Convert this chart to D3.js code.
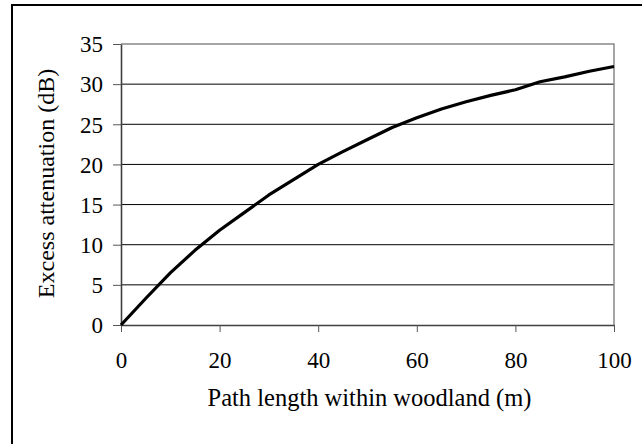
<!DOCTYPE html>
<html lang="en">
<head>
<meta charset="utf-8">
<script src="https://d3js.org/d3.v7.min.js"></script>
<style>
  body { margin: 0; background: #fff; }
  svg text { font-family: "Liberation Serif", "Times New Roman", serif; fill: #000; }
</style>
</head>
<body>
<svg id="chart" width="642" height="444"></svg>
<script>
// path length within woodland (m)
const distances = [0, 5, 10, 15, 20, 25, 30, 35, 40, 45, 50, 55, 60, 65, 70, 75, 80, 85, 90, 95, 100];
// excess attenuation (dB)
const attenuation = [0, 3.3, 6.5, 9.3, 11.8, 14.0, 16.2, 18.1, 20.0, 21.6, 23.1, 24.6, 25.8, 26.9, 27.8, 28.6, 29.3, 30.3, 30.9, 31.6, 32.2];
const xTicks = [0, 20, 40, 60, 80, 100];
const yTicks = [0, 5, 10, 15, 20, 25, 30, 35];

const svg = d3.select("#chart");
const plotL = 121, plotR = 614, plotT = 44, plotB = 325;

// outer frame (runs off the right and bottom edges)
svg.append("rect")
    .attr("x", 12).attr("y", 5)
    .attr("width", 700).attr("height", 500)
    .attr("fill", "none").attr("stroke", "#000").attr("stroke-width", 2);

const x = d3.scaleLinear().domain([0, 100]).range([plotL, plotR]);
const y = d3.scaleLinear().domain([0, 35]).range([plotB, plotT]);

// gridlines
svg.append("g")
  .selectAll("line")
  .data(yTicks.filter(d => d > 0 && d < 35))
  .join("line")
    .attr("x1", plotL).attr("x2", plotR)
    .attr("y1", d => y(d)).attr("y2", d => y(d))
    .attr("stroke", "#000").attr("stroke-width", 1);

// plot area border (top and right, gray)
svg.append("path")
    .attr("d", `M${plotL},${plotT}H${plotR}V${plotB}`)
    .attr("fill", "none").attr("stroke", "#888").attr("stroke-width", 1.5);

// axes
const xAxis = svg.append("g")
    .attr("transform", `translate(0,${plotB})`)
    .call(d3.axisBottom(x).tickValues(xTicks).tickSize(7).tickSizeOuter(0).tickPadding(19));
const yAxis = svg.append("g")
    .attr("transform", `translate(${plotL},0)`)
    .call(d3.axisLeft(y).tickValues(yTicks).tickSize(8).tickSizeOuter(0).tickPadding(10));

[xAxis, yAxis].forEach(g => {
  g.select(".domain").attr("stroke", "#404040").attr("stroke-width", 1.6);
  g.selectAll(".tick line").attr("stroke", "#555").attr("stroke-width", 1);
  g.selectAll(".tick text")
      .attr("font-family", "Liberation Serif")
      .attr("font-size", 23);
});
xAxis.selectAll(".tick text").attr("dy", "0.72em");
yAxis.selectAll(".tick text").attr("dy", "0.34em");

// curve
const line = d3.line()
    .x((d, i) => x(distances[i]))
    .y(d => y(d));
svg.append("path")
    .datum(attenuation)
    .attr("d", line)
    .attr("fill", "none")
    .attr("stroke", "#000")
    .attr("stroke-width", 3.2)
    .attr("stroke-linejoin", "round");

// axis titles
svg.append("text")
    .attr("x", (plotL + plotR) / 2 + 2).attr("y", 406)
    .attr("text-anchor", "middle")
    .attr("font-size", 24.5)
    .text("Path length within woodland (m)");

svg.append("text")
    .attr("transform", `translate(54,${(plotT + plotB) / 2 - 1}) rotate(-90)`)
    .attr("text-anchor", "middle")
    .attr("font-size", 24)
    .text("Excess attenuation (dB)");
</script>
</body>
</html>
